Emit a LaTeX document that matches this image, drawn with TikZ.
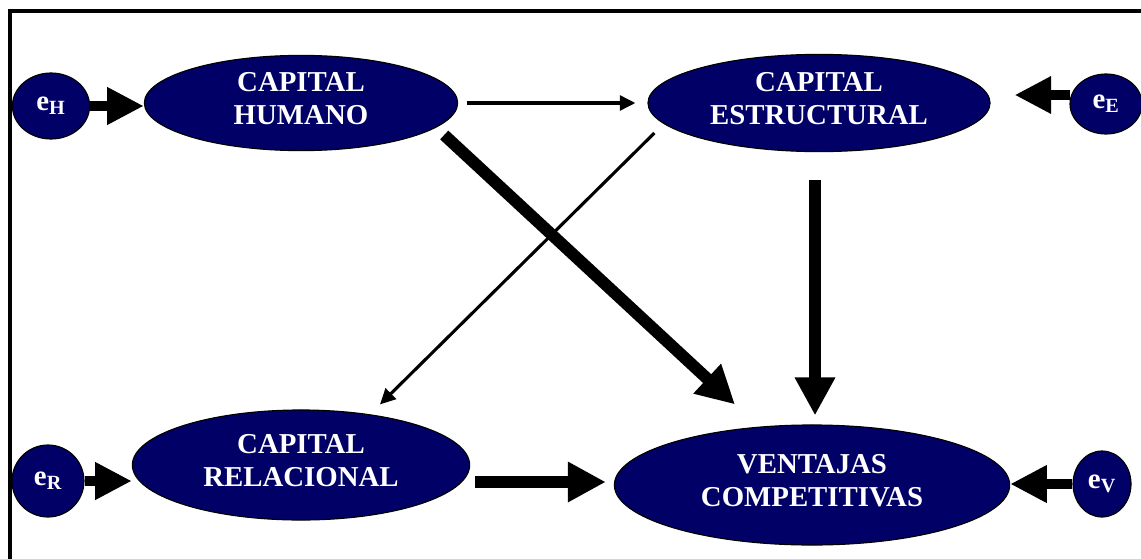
\documentclass[tikz,border=0pt]{standalone}
\usepackage{fontspec}
\setmainfont{Liberation Serif}
\usetikzlibrary{arrows.meta,shapes,calc}
\definecolor{navy}{RGB}{0,0,102}
\tikzset{
  small state/.style={
    draw=black,
    line width=0.8pt,
    fill=navy,
    shape=ellipse,
    inner sep=0pt,
    text=white,
    align=center,
    font=\fontsize{20.5}{23.4}\selectfont\bfseries
  },
  big state/.style={
    small state,
    text depth=7pt
  },
  block arrow/.style={-{Triangle[length=26pt,width=25pt]}, line width=7.8pt},
  heavy arrow/.style={-{Triangle[length=27pt,width=27pt]}, line width=8.5pt},
  thin arrow/.style={-{Triangle[length=11pt,width=10.5pt]}, line width=2.2pt}
}

\begin{document}
\begin{tikzpicture}[x=0.025cm, y=-0.025cm]
 \useasboundingbox (0,0) rectangle (1141,558);
 \clip (0,0) rectangle (1141,558);
 \draw[line width=2.6pt] (10,11) rectangle (1160,580);
 % constructs
 \node[big state, minimum width=7.83cm, minimum height=2.38cm] (ch) at (301,103) {CAPITAL\\HUMANO};
 \node[big state, minimum width=8.55cm, minimum height=2.43cm] (ce) at (819,103) {CAPITAL\\ESTRUCTURAL};
 \node[big state, minimum width=8.43cm, minimum height=2.75cm] (cr) at (301,465) {CAPITAL\\RELACIONAL};
 \node[big state, minimum width=9.88cm, minimum height=3.0cm] (vc) at (812,485) {VENTAJAS\\COMPETITIVAS};
 % error terms
 \node[small state, minimum width=1.93cm, minimum height=1.65cm] (eh) at (51,106) {e\textsubscript{H}};
 \node[small state, minimum width=1.8cm, minimum height=1.5cm] (ee) at (1106,104) {e\textsubscript{E}};
 \node[small state, minimum width=1.8cm, minimum height=1.8cm] (er) at (48,481) {e\textsubscript{R}};
 \node[small state, minimum width=1.45cm, minimum height=1.65cm] (ev) at (1102,484) {e\textsubscript{V}};
 % paths
 \draw[block arrow] (eh.east) -- (eh.east -| ch.west);
 \draw[block arrow] ($(ee.west)+(1,-9)$) -- ($(ce.east)+(24,-8)$);
 \draw[block arrow] (er.east) -- (er.east -| cr.west);
 \draw[block arrow] (ev.west) -- (ev.west -| vc.east);
 \draw[thin arrow] ($(ch.east)+(9,0)$) -- ($(ce.west)+(-12,0)$);
 \draw[thin arrow] ($(ce.west)+(7,30)$) -- ($(cr.north)+(79,-5)$);
 \draw[heavy arrow] ($(ch.east)+(-14,32)$) -- ($(vc.north)+(-77,-20)$);
 \draw[heavy arrow] ($(ce.south)+(-4,28)$) -- ($(vc.north)+(3,-9)$);
 \draw[heavy arrow] ($(cr.east)+(5,17)$) -- ($(vc.west)+(-8,-3)$);
\end{tikzpicture}
\end{document}
